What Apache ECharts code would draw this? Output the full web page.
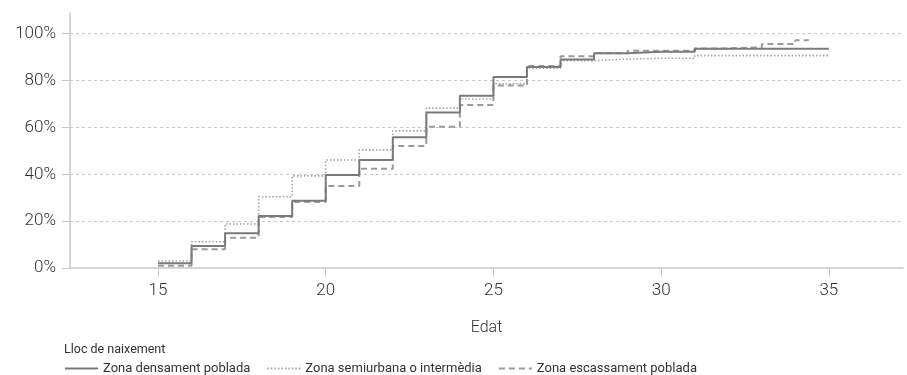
<!DOCTYPE html>
<html>
<head>
<meta charset="utf-8">
<script src="https://cdn.jsdelivr.net/npm/echarts@6/dist/echarts.min.js"></script>
<style>
html,body{margin:0;padding:0;background:#fff;}
#chart{width:907px;height:375px;}
</style>
</head>
<body>
<div id="chart"></div>
<script>
// Ages (x) at which each step starts
const agesDense = [15,16,17,18,19,20,21,22,23,24,25,26,27,28,29,30,31,32,33,34,35];
const valDense  = [0.020,0.094,0.148,0.222,0.287,0.397,0.461,0.558,0.664,0.735,0.815,0.858,0.890,0.916,0.923,0.923,0.935,0.935,0.935,0.935,0.935];

const agesSemi = [15,16,17,18,19,20,21,22,23,24,25,26,27,28,29,30,31,32,33,34,35];
const valSemi  = [0.030,0.112,0.188,0.304,0.393,0.461,0.504,0.585,0.682,0.721,0.786,0.853,0.885,0.891,0.895,0.895,0.906,0.906,0.906,0.906,0.906];

const agesScarce = [15,16,17,18,19,20,21,22,23,24,25,26,27,28,29,30,31,32,33,34,34.4];
const valScarce  = [0.010,0.080,0.129,0.218,0.282,0.350,0.424,0.521,0.603,0.696,0.779,0.862,0.904,0.916,0.927,0.927,0.937,0.942,0.956,0.972,0.972];

const seriesNames = ['Zona densament poblada','Zona semiurbana o intermèdia','Zona escassament poblada'];
const xTicks = [15,20,25,30,35];
const yTicks = [0,0.2,0.4,0.6,0.8,1.0];
const xTitle = 'Edat';
const legendTitle = 'Lloc de naixement';

const zip = (a,b) => a.map((x,i)=>[x,b[i]]);

const FONT = 'Roboto, "Liberation Sans", Arial, sans-serif';
const chart = echarts.init(document.getElementById('chart'), null, {renderer:'canvas'});
chart.setOption({
  animation:false,
  backgroundColor:'#ffffff',
  title:{
    text:legendTitle, left:59, top:338,
    textStyle:{fontSize:12.5, fontWeight:'normal', color:'#333', fontFamily:FONT}
  },
  legend:{
    orient:'horizontal', left:59, top:357, itemWidth:33, itemHeight:14, itemGap:16,
    itemStyle:{opacity:0},
    textStyle:{fontSize:13, color:'#333', fontFamily:FONT},
    data:seriesNames
  },
  grid:{left:70, right:4, top:13, bottom:107, containLabel:false},
  xAxis:{
    type:'value', min:12.376, max:37.21,
    name:xTitle, nameLocation:'middle', nameGap:52,
    nameTextStyle:{fontSize:16, color:'#333', fontFamily:FONT, fontWeight:300},
    axisLine:{show:true, onZero:false, lineStyle:{color:'#c8c8c8', width:1.5}},
    axisTick:{show:true, length:9, customValues:xTicks, lineStyle:{color:'#c8c8c8', width:1}},
    axisLabel:{customValues:xTicks, margin:14, fontSize:17, color:'#333', fontFamily:FONT, fontWeight:300},
    splitLine:{show:false}
  },
  yAxis:{
    type:'value', min:0, max:1.088,
    axisLine:{show:true, lineStyle:{color:'#c8c8c8', width:1.5}},
    axisTick:{show:true, length:8, customValues:yTicks, lineStyle:{color:'#c8c8c8', width:1}},
    axisLabel:{customValues:yTicks, margin:14, fontSize:17, color:'#333', fontFamily:FONT, fontWeight:300,
      formatter:v=>Math.round(v*100)+'%'},
    splitLine:{show:true, showMinLine:false, lineStyle:{color:'#c8c8c8', width:1, type:[3,3]}}
  },
  series:[
    {name:seriesNames[0], type:'line', step:'end', symbol:'none', data:zip(agesDense,valDense),
     lineStyle:{color:'#7a7a7a', width:2}, itemStyle:{color:'#7a7a7a'}, z:3},
    {name:seriesNames[1], type:'line', step:'end', symbol:'none', data:zip(agesSemi,valSemi),
     lineStyle:{color:'#a3a3a3', width:1.6, type:[1.5,2]}, itemStyle:{color:'#a3a3a3'}, z:2},
    {name:seriesNames[2], type:'line', step:'end', symbol:'none', data:zip(agesScarce,valScarce),
     lineStyle:{color:'#9a9a9a', width:2, type:[6,4]}, itemStyle:{color:'#9a9a9a'}, z:2}
  ]
});
</script>
</body>
</html>
